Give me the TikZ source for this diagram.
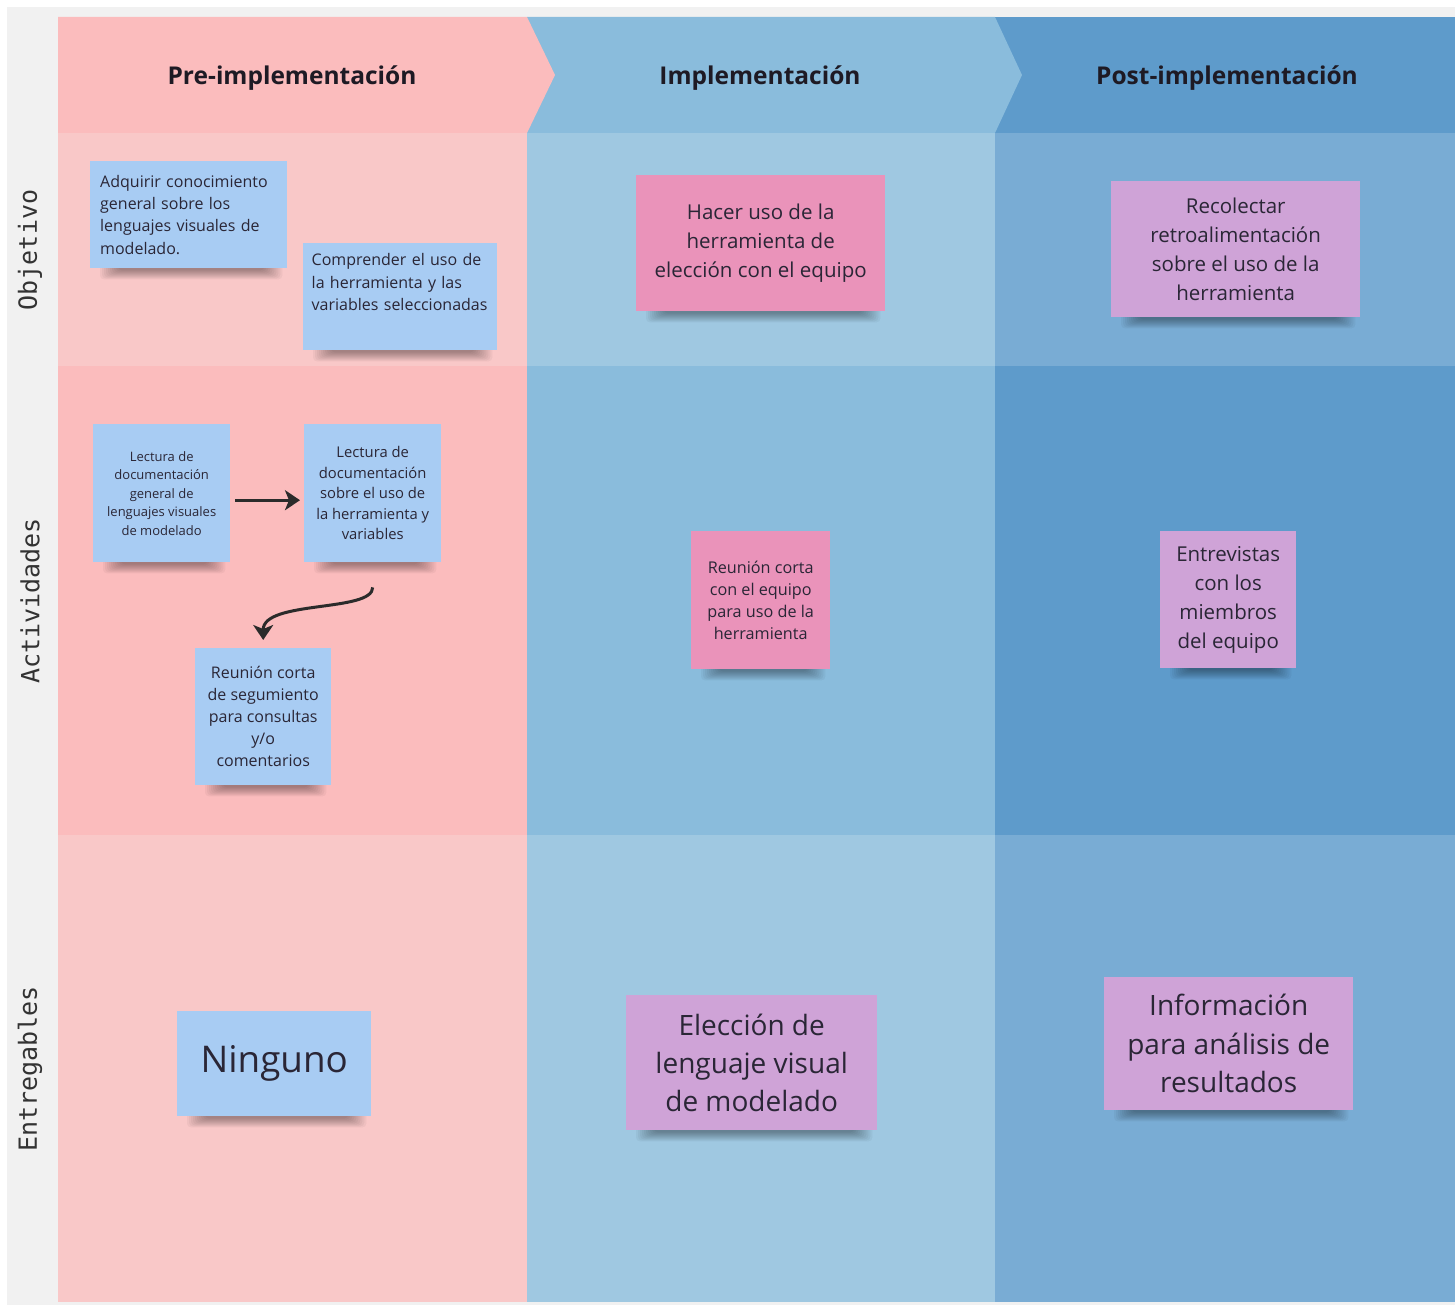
\documentclass[tikz,border=0pt]{standalone}
\usepackage{fontspec}
\setmainfont{Open Sans}
\newfontfamily\labelfont{DejaVu Sans Mono}
\usetikzlibrary{arrows.meta,calc}

\definecolor{framegrey}{HTML}{F1F1F1}
\definecolor{pinkhead}{HTML}{FBBCBD}
\definecolor{pinklight}{HTML}{F9C8C8}
\definecolor{bluehead}{HTML}{8ABCDC}
\definecolor{bluelight}{HTML}{9FC8E1}
\definecolor{deephead}{HTML}{5E9BCB}
\definecolor{deeplight}{HTML}{79ACD4}
\definecolor{noteblue}{HTML}{A8CCF3}
\definecolor{notepink}{HTML}{EA93BA}
\definecolor{notepurple}{HTML}{CFA3D7}
\definecolor{ink}{HTML}{2A2636}
\definecolor{headink}{HTML}{1E1A24}
\definecolor{labelink}{HTML}{333333}
\definecolor{arrowink}{HTML}{2B2B2B}

\pgfdeclarelayer{back}
\pgfdeclarelayer{shade}
\pgfsetlayers{back,shade,main}

\newcommand\fsz[2]{\fontsize{#1}{#2}\selectfont}

% soft shadow under the lower edge of a sticky note
\newcommand\noteshadow[1]{%
  \begin{pgfonlayer}{shade}
    \foreach \k in {0,...,9} {
      \fill[black, opacity=0.04, rounded corners=4pt]
        ($(#1.south west)+(10+2*\k,11-\k)$) rectangle ($(#1.south east)+(-5-2*\k,-4)$);
    }
  \end{pgfonlayer}}

\tikzset{
  sticky/.style={fill=#1, text=ink, inner sep=0pt, anchor=north west, align=center},
  phase/.style={text=headink, font=\bfseries\fsz{24.5}{28}},
  rowlabel/.style={text=labelink, font=\labelfont\fsz{25}{28}, rotate=90},
  flow/.style={draw=arrowink, line width=3pt,
    -{Stealth[length=15pt, width=20pt, inset=4pt]}},
}

\begin{document}
\begin{tikzpicture}[x=1pt, y=-1pt]
  \useasboundingbox (0,0) rectangle (1455,1306);

  \begin{pgfonlayer}{back}
    \fill[white] (0,0) rectangle (1455,1306);
    \fill[framegrey] (7,7) rectangle (1455,1305);

    % phase bands
    \fill[bluehead] (527,17) rectangle (995,133);
    \fill[deephead] (995,17) rectangle (1455,133);
    \fill[bluehead] (527,17) -- (995,17) -- (1022,75) -- (995,133) -- (527,133) -- cycle;
    \fill[pinkhead] (58,17) -- (527,17) -- (555,75) -- (527,133) -- (58,133) -- cycle;

    % row: Objetivo
    \fill[pinklight] (58,133) rectangle (527,366);
    \fill[bluelight] (527,133) rectangle (995,366);
    \fill[deeplight] (995,133) rectangle (1455,366);
    % row: Actividades
    \fill[pinkhead] (58,366) rectangle (527,835);
    \fill[bluehead] (527,366) rectangle (995,835);
    \fill[deephead] (995,366) rectangle (1455,835);
    % row: Entregables
    \fill[pinklight] (58,835) rectangle (527,1302);
    \fill[bluelight] (527,835) rectangle (995,1302);
    \fill[deeplight] (995,835) rectangle (1455,1302);
  \end{pgfonlayer}

  % phase titles
  \node[phase] (pre)  at (292,78)  {Pre-implementación};
  \node[phase] (impl) at (760,78)  {Implementación};
  \node[phase] (post) at (1227,78) {Post-implementación};

  % row titles
  \node[rowlabel] (lobj) at (30,250)  {Objetivo};
  \node[rowlabel] (lact) at (30,601)  {Actividades};
  \node[rowlabel] (lent) at (30,1069) {Entregables};

  % Objetivo
  \node[sticky=noteblue, minimum width=197pt, minimum height=107pt,
        text width=177pt, inner xsep=10pt, align=left, font=\fsz{16}{22.4}]
    (ob1) at (90,161) {Adquirir conocimiento\\general sobre los\\lenguajes visuales de\\modelado.};
  \node[sticky=noteblue, minimum width=194pt, minimum height=107pt,
        text width=177pt, inner xsep=8.5pt, align=left, font=\fsz{16}{22.4}]
    (ob2) at (303,243) {Comprender el uso de\\la herramienta y las\\variables seleccionadas\\\strut};
  \node[sticky=notepink, minimum width=249pt, minimum height=136pt, font=\fsz{20.5}{29}]
    (ob3) at (636,175) {Hacer uso de la\\herramienta de\\elección con el equipo};
  \node[sticky=notepurple, minimum width=249pt, minimum height=136pt, font=\fsz{20.5}{29}]
    (ob4) at (1111,181) {Recolectar\\retroalimentación\\sobre el uso de la\\herramienta};

  % Actividades
  \node[sticky=noteblue, minimum width=137pt, minimum height=138pt, font=\fsz{13}{18.5}]
    (ac1) at (93,424) {Lectura de\\documentación\\general de\\lenguajes visuales\\de modelado};
  \node[sticky=noteblue, minimum width=137pt, minimum height=138pt, font=\fsz{14.8}{20.5}]
    (ac2) at (304,424) {Lectura de\\documentación\\sobre el uso de\\la herramienta y\\variables};
  \node[sticky=noteblue, minimum width=136pt, minimum height=137pt, font=\fsz{16}{22}]
    (ac3) at (195,648) {Reunión corta\\de segumiento\\para consultas\\y/o\\comentarios};
  \node[sticky=notepink, minimum width=139pt, minimum height=138pt, font=\fsz{16.2}{22}]
    (ac4) at (691,531) {Reunión corta\\con el equipo\\para uso de la\\herramienta};
  \node[sticky=notepurple, minimum width=136pt, minimum height=137pt, font=\fsz{20.5}{29}]
    (ac5) at (1160,531) {Entrevistas\\con los\\miembros\\del equipo};

  % Entregables
  \node[sticky=noteblue, minimum width=194pt, minimum height=105pt, font=\fsz{36.8}{42}]
    (en1) at (177,1011) {Ninguno};
  \node[sticky=notepurple, minimum width=251pt, minimum height=135pt, font=\fsz{28}{38}]
    (en2) at (626,995) {Elección de\\lenguaje visual\\de modelado};
  \node[sticky=notepurple, minimum width=249pt, minimum height=133pt, font=\fsz{28}{38.5}]
    (en3) at (1104,977) {Información\\para análisis de\\resultados};

  \foreach \n in {ob1,ob2,ob3,ob4,ac1,ac2,ac3,ac4,ac5,en1,en2,en3} {\noteshadow{\n}}

  % flow between the activities
  \draw[flow, shorten <=5pt, shorten >=4pt]
    ([yshift=-7pt]ac1.east) -- ([yshift=-7pt]ac2.west);
  \coordinate (bend) at ($(ac2.south)+(0,25)$);
  \draw[flow, shorten >=8pt]
    (bend) .. controls +(0,25) and +(0,-48) .. (ac3.north);
\end{tikzpicture}
\end{document}
